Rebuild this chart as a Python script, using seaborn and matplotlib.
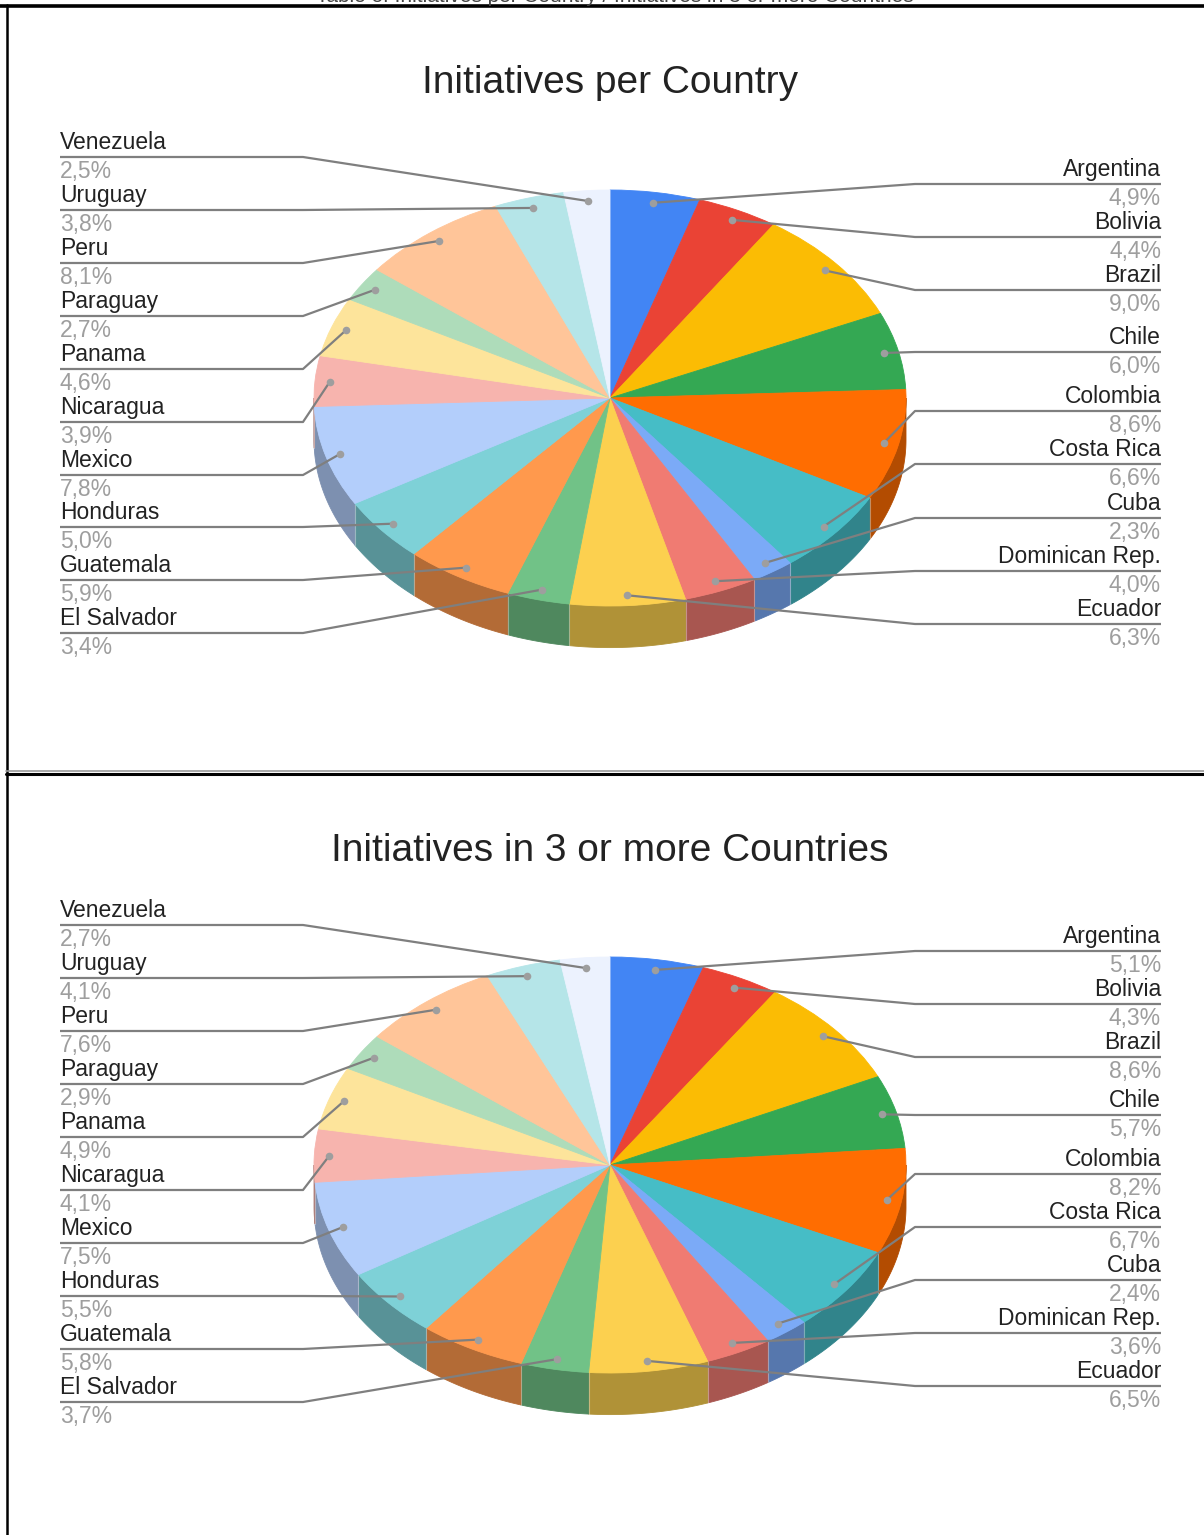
import numpy as np
import matplotlib
matplotlib.use("Agg")
import matplotlib.pyplot as plt
from matplotlib.lines import Line2D
import seaborn as sns

# ---------------- data ----------------
countries = ["Argentina", "Bolivia", "Brazil", "Chile", "Colombia", "Costa Rica",
             "Cuba", "Dominican Rep.", "Ecuador", "El Salvador", "Guatemala",
             "Honduras", "Mexico", "Nicaragua", "Panama", "Paraguay", "Peru",
             "Uruguay", "Venezuela"]
share_per_country = [4.9, 4.4, 9.0, 6.0, 8.6, 6.6, 2.3, 4.0, 6.3, 3.4, 5.9,
                     5.0, 7.8, 3.9, 4.6, 2.7, 8.1, 3.8, 2.5]
share_3plus = [5.1, 4.3, 8.6, 5.7, 8.2, 6.7, 2.4, 3.6, 6.5, 3.7, 5.8,
               5.5, 7.5, 4.1, 4.9, 2.9, 7.6, 4.1, 2.7]
titles = ["Initiatives per Country", "Initiatives in 3 or more Countries"]
slice_colors = ["#4285F4", "#EA4335", "#FBBC04", "#34A853", "#FF6D01", "#46BDC6",
                "#7BAAF7", "#F07B72", "#FCD04F", "#71C287", "#FF994D", "#7ED1D7",
                "#B3CEFB", "#F7B4AE", "#FDE49B", "#AEDCBA", "#FFC599", "#B5E5E8",
                "#ECF2FE"]

# ---------------- layout (pixels) ----------------
W, H = 1204, 1535
CX, RX, RY, DEPTH = 610, 296, 208, 0.2
panels = [
    dict(top=0, bottom=773, cy=398, title_base=93,
         right_lines=[184, 237, 290, 352, 411, 464, 518, 571, 624],
         left_lines=[157, 210, 263, 316, 369, 422, 475, 527, 580, 633]),
    dict(top=773, bottom=H, cy=1165, title_base=861,
         right_lines=[951, 1004, 1057, 1115, 1174, 1227, 1280, 1333, 1386],
         left_lines=[925, 978, 1031, 1084, 1137, 1190, 1243, 1296, 1349, 1402]),
]

sns.set_theme(style="white")
plt.rcParams["font.family"] = ["Liberation Sans", "DejaVu Sans"]

fig = plt.figure(figsize=(W / 100, H / 100), dpi=100)
fig.patch.set_facecolor("white")

LINE_C = "#7f7f7f"
DOT_C = "#9e9e9e"
NAME_C = "#222222"
PCT_C = "#9e9e9e"
FS = 16.5


def fmt(v):
    return f"{v:.1f}".replace(".", ",") + "%"


def draw_panel(p, values, title):
    top, bottom, cy = p["top"], p["bottom"], p["cy"]
    ax = fig.add_axes([0, 1 - bottom / H, 1, (bottom - top) / H])
    xd = lambda px: (px - CX) / RX
    yd = lambda py: (cy - py) / RY

    vals = np.asarray(values, dtype=float)
    frac = vals / vals.sum()
    wedges, _ = ax.pie(vals, colors=slice_colors, startangle=90, counterclock=False,
                       radius=1, center=(0, 0), frame=False,
                       wedgeprops=dict(linewidth=0.6))
    for w, c in zip(wedges, slice_colors):
        w.set_edgecolor(c)
        w.set_zorder(3)

    # side walls of the 3D pie
    cum = np.concatenate([[0], np.cumsum(frac)])
    a_start = 90 - 360 * cum[:-1]
    a_end = 90 - 360 * cum[1:]
    for i in range(len(vals)):
        lo, hi = max(a_end[i], -180), min(a_start[i], 0)
        if hi <= lo:
            continue
        t = np.radians(np.linspace(lo, hi, 80))
        xs = np.concatenate([np.cos(t), np.cos(t[::-1])])
        ys = np.concatenate([np.sin(t), np.sin(t[::-1]) - DEPTH])
        side = np.clip(np.array(matplotlib.colors.to_rgb(slice_colors[i])) * 0.7, 0, 1)
        ax.fill(xs, ys, color=side, lw=0.6, ec=side, zorder=1)
    for a in a_end[:-1]:
        if -180 < a < 0:
            r = np.radians(a)
            ax.plot([np.cos(r)] * 2, [np.sin(r), np.sin(r) - DEPTH],
                    color="white", alpha=0.35, lw=0.8, zorder=2)

    # labels with leader lines
    mids = np.radians((a_start + a_end) / 2)
    n_right = len(p["right_lines"])
    for i in range(len(vals)):
        dx, dy = 0.95 * np.cos(mids[i]), 0.95 * np.sin(mids[i])
        if i < n_right:
            ly = p["right_lines"][i]
            x_text, x_bend, ha = 1161, 915, "right"
        else:
            ly = p["left_lines"][len(vals) - 1 - i]
            x_text, x_bend, ha = 60, 303, "left"
        ax.plot([xd(x_text), xd(x_bend), dx], [yd(ly), yd(ly), dy],
                color=LINE_C, lw=1.6, zorder=5, solid_capstyle="butt")
        ax.scatter([dx], [dy], s=30, color=DOT_C, zorder=6, linewidths=0)
        ax.text(xd(x_text), yd(ly - 8), countries[i], ha=ha, va="baseline",
                fontsize=FS, color=NAME_C, zorder=7)
        ax.text(xd(x_text), yd(ly + 21), fmt(values[i]), ha=ha, va="baseline",
                fontsize=FS, color=PCT_C, zorder=7)

    ax.text(xd(610), yd(p["title_base"]), title, ha="center", va="baseline",
            fontsize=28, color="#222222")

    ax.set_aspect("auto")
    ax.set_xlim(xd(0), xd(W))
    ax.set_ylim(yd(bottom), yd(top))
    ax.axis("off")


draw_panel(panels[0], share_per_country, titles[0])
draw_panel(panels[1], share_3plus, titles[1])

# clipped header text and frame lines
fig.text(615 / W, 1 - 1.5 / H, "Table of Initiatives per Country / Initiatives in 3 or more Countries",
         ha="center", va="baseline", fontsize=15, color="#444444")
fig.add_artist(Line2D([0, 1], [1 - 5.5 / H] * 2, color="black", lw=2.6))
fig.add_artist(Line2D([6.5 / W] * 2, [0, 1 - 5 / H], color="black", lw=1.8))
fig.add_artist(Line2D([6 / W, 1], [1 - 771.5 / H] * 2, color="#999999", lw=1.2))
fig.add_artist(Line2D([6 / W, 1], [1 - 773.5 / H] * 2, color="black", lw=2.2))

fig.savefig("out.png", dpi=100, facecolor="white")
